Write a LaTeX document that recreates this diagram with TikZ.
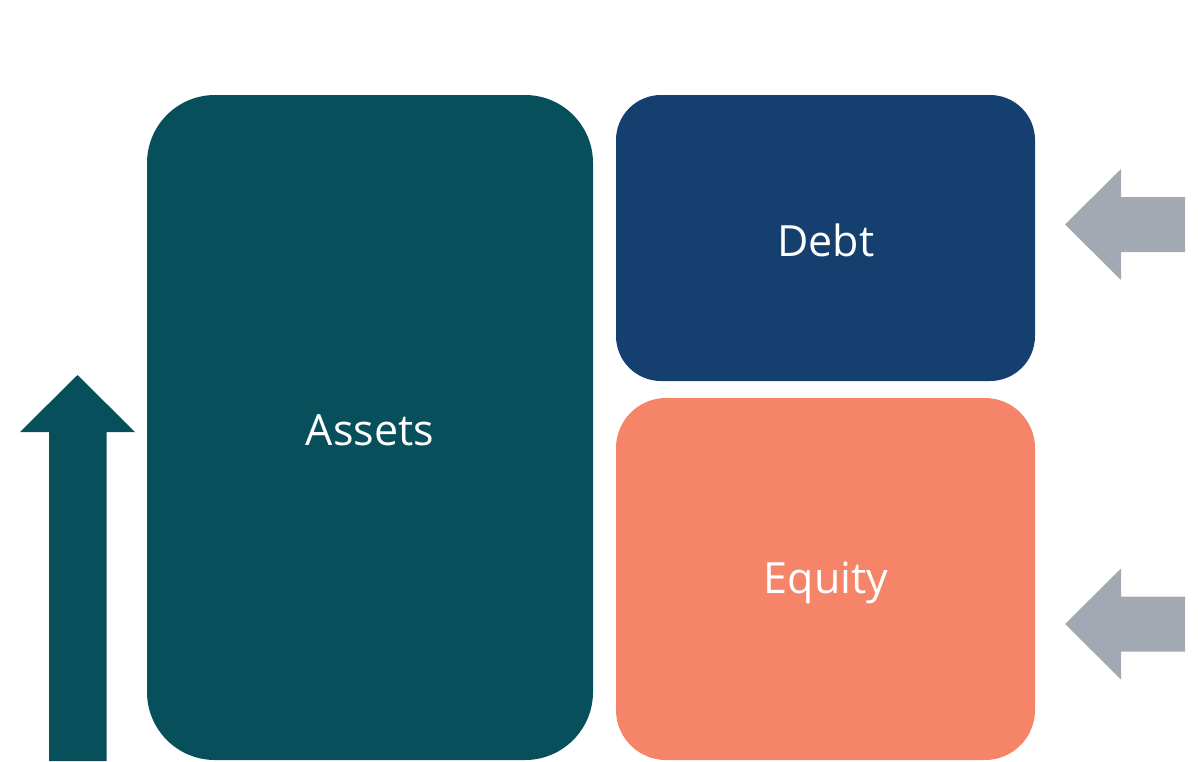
\documentclass[tikz,border=0pt]{standalone}
\usepackage{fontspec}
\setmainfont{Open Sans}
\definecolor{teal}{HTML}{074F5A}
\definecolor{debtc}{HTML}{153F6F}
\definecolor{equityc}{HTML}{F58468}
\definecolor{grayc}{HTML}{A3A9B2}
\tikzset{
  block/.style={inner sep=0pt, outer sep=0pt, text=white, font=\fontsize{43}{50}\selectfont},
}
\begin{document}
\begin{tikzpicture}[x=1pt,y=-1pt]
\useasboundingbox (0,0) rectangle (1198,761);
% boxes
\fill[teal, rounded corners=68pt] (147,95) rectangle (593,760);
\node[block] (assets) at (370,430) {Assets};
\fill[debtc, rounded corners=45pt] (616,95) rectangle (1035,381);
\node[block] (debt) at (826,240) {Debt};
\fill[equityc, rounded corners=50pt] (616,398) rectangle (1035,760);
\node[block] (equity) at (826,583) {Equity};
% up arrow
\fill[teal] (49,761) -- (49,432) -- (20,432) -- (77.5,375) -- (135,432) -- (106.5,432) -- (106.5,761) -- cycle;
% left arrows
\fill[grayc] (1185,197) -- (1121,197) -- (1121,169) -- (1065,224.5) -- (1121,280) -- (1121,252) -- (1185,252) -- cycle;
\fill[grayc] (1185,596.5) -- (1121,596.5) -- (1121,568.5) -- (1065,624) -- (1121,679.5) -- (1121,651.5) -- (1185,651.5) -- cycle;
\end{tikzpicture}
\end{document}
